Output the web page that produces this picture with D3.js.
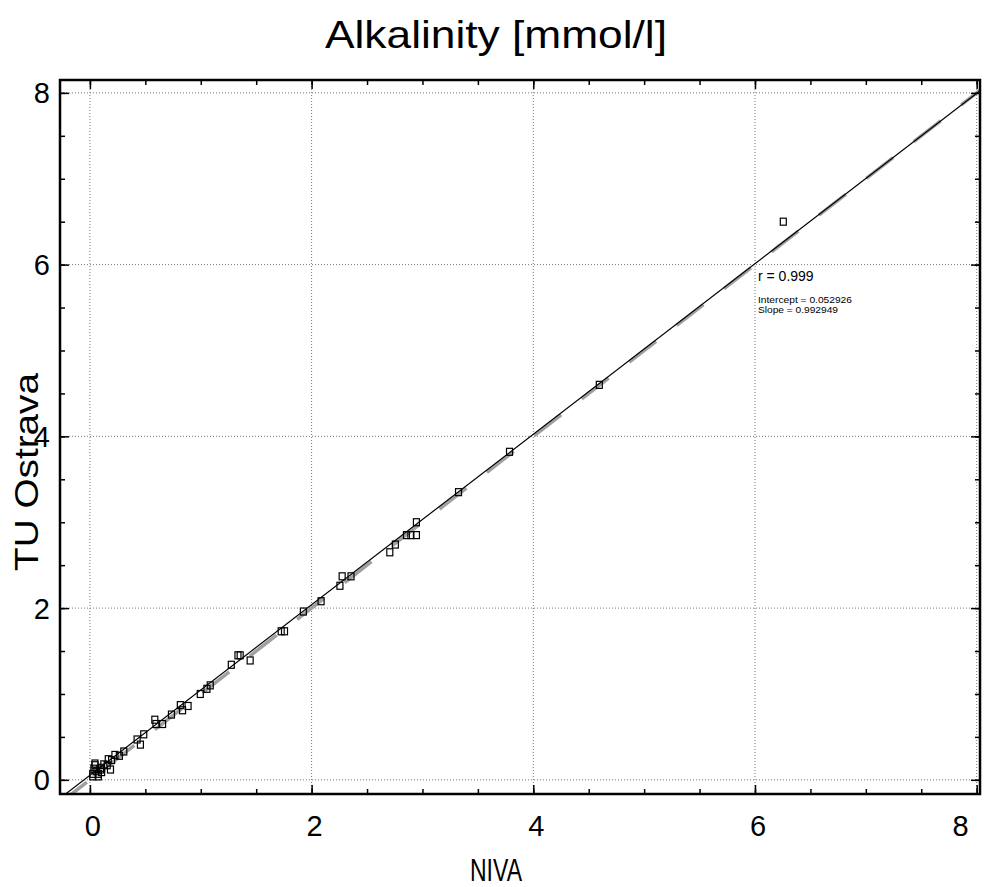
<!DOCTYPE html>
<html>
<head>
<meta charset="utf-8">
<script src="https://cdn.jsdelivr.net/npm/d3@7"></script>
<style>
  body { margin: 0; background: #fff; }
  text { font-family: "Liberation Sans", Arial, sans-serif; fill: #000; }
</style>
</head>
<body>
<div id="chart"></div>
<script>
var svgWidth = 994;
var svgHeight = 887;
var margin = {top: 80, right: 14, bottom: 93, left: 60};
var width = svgWidth - margin.left - margin.right;
var height = svgHeight - margin.top - margin.bottom;

// NIVA (x) vs TU Ostrava (y)
var nivaValues = [6.26, 4.60, 3.79, 3.33, 2.95, 2.86, 2.90, 2.95, 2.76, 2.71,
  2.28, 2.36, 2.26, 2.09, 1.93, 1.73, 1.76, 1.45, 1.36, 1.34, 1.28, 1.09, 1.06,
  1.00, 0.89, 0.84, 0.82, 0.74, 0.66, 0.60, 0.59, 0.49, 0.43, 0.46, 0.31, 0.27,
  0.23, 0.20, 0.17, 0.16, 0.13, 0.19, 0.11, 0.05, 0.04, 0.06, 0.08, 0.03, 0.03,
  0.08, 0.11, 0.05, 0.10];
var tuValues = [6.50, 4.60, 3.82, 3.35, 3.00, 2.85, 2.85, 2.85, 2.74, 2.65,
  2.37, 2.37, 2.26, 2.08, 1.96, 1.73, 1.73, 1.39, 1.45, 1.45, 1.34, 1.10, 1.06,
  1.00, 0.86, 0.81, 0.87, 0.76, 0.65, 0.65, 0.70, 0.53, 0.47, 0.41, 0.33, 0.28,
  0.29, 0.23, 0.24, 0.17, 0.18, 0.12, 0.14, 0.19, 0.13, 0.10, 0.07, 0.07, 0.04,
  0.04, 0.09, 0.17, 0.12];

var majorTicks = [0, 2, 4, 6, 8];
var minorTicks = [0, 0.5, 1, 1.5, 2, 2.5, 3, 3.5, 4, 4.5, 5, 5.5, 6, 6.5, 7, 7.5, 8];

var rValue = "0.999";
var intercept = 0.052926;
var slope = 0.992949;

var data = nivaValues.map(function(v, i) {
  return {niva: v, tu: tuValues[i]};
});

var svg = d3.select("#chart")
  .append("svg")
  .attr("width", svgWidth)
  .attr("height", svgHeight);

var chart = svg.append("g")
  .attr("transform", "translate(" + margin.left + "," + margin.top + ")");

var xScale = d3.scaleLinear().domain([-0.27, 8.03]).range([0, width]);
var yScale = d3.scaleLinear().domain([-0.165, 8.15]).range([height, 0]);

svg.append("defs").append("clipPath").attr("id", "plotClip")
  .append("rect").attr("width", width).attr("height", height);

// dotted grid
chart.selectAll(".gridx").data(majorTicks).enter().append("line")
  .attr("x1", function(d) { return xScale(d); })
  .attr("x2", function(d) { return xScale(d); })
  .attr("y1", 0).attr("y2", height)
  .attr("stroke", "#777").attr("stroke-width", 1)
  .attr("stroke-dasharray", "1,2");
chart.selectAll(".gridy").data(majorTicks).enter().append("line")
  .attr("y1", function(d) { return yScale(d); })
  .attr("y2", function(d) { return yScale(d); })
  .attr("x1", 0).attr("x2", width)
  .attr("stroke", "#777").attr("stroke-width", 1)
  .attr("stroke-dasharray", "1,2");

var plot = chart.append("g").attr("clip-path", "url(#plotClip)");

// 1:1 line, grey dashes
var line = d3.line()
  .x(function(d) { return xScale(d[0]); })
  .y(function(d) { return yScale(d[1]); });
var xd = xScale.domain();
plot.append("path")
  .attr("d", line([[xd[0], xd[0]], [xd[1], xd[1]]]))
  .attr("fill", "none")
  .attr("stroke", "#a0a0a0")
  .attr("stroke-width", 3.5)
  .attr("stroke-dasharray", "34,26");

// regression line
plot.append("path")
  .attr("d", line([[xd[0], intercept + slope * xd[0]], [xd[1], intercept + slope * xd[1]]]))
  .attr("fill", "none")
  .attr("stroke", "#000")
  .attr("stroke-width", 1.2);

// points
var size = 7;
plot.selectAll("rect.pt").data(data).enter().append("rect")
  .attr("class", "pt")
  .attr("x", function(d) { return xScale(d.niva) - size / 2; })
  .attr("y", function(d) { return yScale(d.tu) - size / 2; })
  .attr("width", size - 1)
  .attr("height", size)
  .attr("fill", "none")
  .attr("stroke", "#000")
  .attr("stroke-width", 1.2);

// ticks, all pointing inward
function tickAxis(gen, transform, size) {
  var g = chart.append("g").attr("transform", transform)
    .call(gen.tickSize(-size).tickFormat(""));
  g.select(".domain").remove();
  g.selectAll("line").attr("stroke", "#000").attr("stroke-width", 1.5);
  return g;
}
tickAxis(d3.axisBottom(xScale).tickValues(minorTicks), "translate(0," + height + ")", 5);
tickAxis(d3.axisBottom(xScale).tickValues(majorTicks), "translate(0," + height + ")", 9);
tickAxis(d3.axisTop(xScale).tickValues(minorTicks), "translate(0,0)", 5);
tickAxis(d3.axisTop(xScale).tickValues(majorTicks), "translate(0,0)", 9);
tickAxis(d3.axisLeft(yScale).tickValues(minorTicks), "translate(0,0)", 5);
tickAxis(d3.axisLeft(yScale).tickValues(majorTicks), "translate(0,0)", 9);
tickAxis(d3.axisRight(yScale).tickValues(minorTicks), "translate(" + width + ",0)", 5);
tickAxis(d3.axisRight(yScale).tickValues(majorTicks), "translate(" + width + ",0)", 9);

// frame
chart.append("rect")
  .attr("width", width).attr("height", height)
  .attr("fill", "none").attr("stroke", "#000").attr("stroke-width", 2.5);

// tick labels
chart.selectAll(".xlab").data(majorTicks).enter().append("text")
  .attr("x", function(d, i) { return i === majorTicks.length - 1 ? xScale(d) - 8 : xScale(d) + 3; })
  .attr("y", height + 42)
  .attr("text-anchor", function(d, i) { return i === majorTicks.length - 1 ? "end" : "middle"; })
  .attr("font-size", "29px")
  .text(function(d) { return d; });

chart.selectAll(".ylab").data(majorTicks).enter().append("text")
  .attr("x", -10)
  .attr("y", function(d) { return yScale(d); })
  .attr("dy", "0.36em")
  .attr("text-anchor", "end")
  .attr("font-size", "29px")
  .text(function(d) { return d; });

// title and axis labels
svg.append("text")
  .attr("x", 496).attr("y", 48)
  .attr("text-anchor", "middle")
  .attr("font-size", "39px")
  .attr("textLength", 342)
  .attr("lengthAdjust", "spacingAndGlyphs")
  .text("Alkalinity [mmol/l]");

svg.append("text")
  .attr("transform", "translate(38,472) rotate(-90)")
  .attr("text-anchor", "middle")
  .attr("font-size", "34px")
  .attr("textLength", 198)
  .attr("lengthAdjust", "spacingAndGlyphs")
  .text("TU Ostrava");

svg.append("text")
  .attr("x", 496).attr("y", 881)
  .attr("text-anchor", "middle")
  .attr("font-size", "31px")
  .attr("textLength", 52)
  .attr("lengthAdjust", "spacingAndGlyphs")
  .style("font-family", "'Liberation Sans Narrow', 'Arial Narrow', sans-serif")
  .text("NIVA");

// fit statistics
svg.append("text")
  .attr("x", 758).attr("y", 281)
  .attr("font-size", "14px")
  .text("r = " + rValue);
svg.append("text")
  .attr("x", 758).attr("y", 303)
  .attr("font-size", "9px")
  .attr("textLength", 94)
  .attr("lengthAdjust", "spacingAndGlyphs")
  .text("Intercept = " + intercept);
svg.append("text")
  .attr("x", 758).attr("y", 313)
  .attr("font-size", "9px")
  .attr("textLength", 80)
  .attr("lengthAdjust", "spacingAndGlyphs")
  .text("Slope = " + slope);
</script>
</body>
</html>
